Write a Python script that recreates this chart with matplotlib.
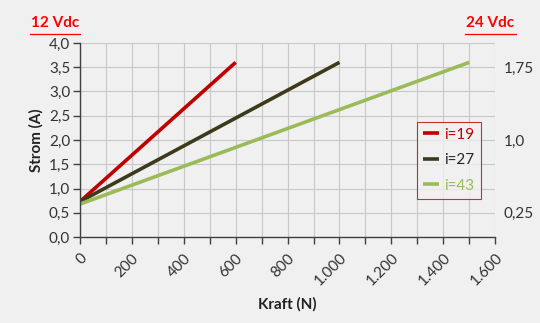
import numpy as np
import matplotlib.pyplot as plt
from matplotlib.ticker import FuncFormatter, MultipleLocator, FixedLocator

plt.rcParams['font.family'] = ['Lato', 'DejaVu Sans']

# series: force (N) vs current (A)
series_names = ["i=19", "i=27", "i=43"]
force_19 = [0, 600]
current_19 = [0.73, 3.6]
force_27 = [0, 1000]
current_27 = [0.73, 3.6]
force_43 = [0, 1500]
current_43 = [0.68, 3.6]
right_ticks = [0.25, 1.0, 1.75]
right_labels = ["0,25", "1,0", "1,75"]

colors = ["#C00000", "#3D3A1C", "#9BBB59"]
text_colors = ["#C00000", "#262626", "#9BBB59"]
bg = "#F0F0F0"


def de_num(v, pos):
    s = "{:,.0f}".format(v)
    return s.replace(",", ".")


fig = plt.figure(figsize=(5.4, 3.23), dpi=100, facecolor=bg)
ax = fig.add_axes([0.148, 0.266, 0.769, 0.601])
ax.set_facecolor(bg)

ax.plot(force_19, current_19, color=colors[0], lw=2.6, label=series_names[0], solid_capstyle='butt')
ax.plot(force_27, current_27, color=colors[1], lw=2.6, label=series_names[1], solid_capstyle='butt')
ax.plot(force_43, current_43, color=colors[2], lw=2.6, label=series_names[2], solid_capstyle='butt')

ax.set_xlim(0, 1600)
ax.set_ylim(0, 4.0)
ax.xaxis.set_major_locator(MultipleLocator(200))
ax.xaxis.set_minor_locator(MultipleLocator(100))
ax.yaxis.set_major_locator(MultipleLocator(0.5))
ax.xaxis.set_major_formatter(FuncFormatter(de_num))
ax.yaxis.set_major_formatter(FuncFormatter(lambda v, p: "{:.1f}".format(v).replace(".", ",")))

ax.grid(True, which='both', color="#C8C8C8", lw=0.8)
ax.set_axisbelow(True)
for s in ["top", "right"]:
    ax.spines[s].set_visible(False)
for s in ["left", "bottom"]:
    ax.spines[s].set_color("#404040")
    ax.spines[s].set_linewidth(1.0)

ax.tick_params(axis='both', which='both', length=5, width=1, color="#404040",
               labelsize=11, labelcolor="#333333")
ax.tick_params(axis='y', pad=2)
ax.tick_params(axis='x', pad=5)
for lbl in ax.get_xticklabels():
    lbl.set_rotation(45)
    lbl.set_ha('right')
    lbl.set_va('top')
    lbl.set_rotation_mode('anchor')

ax.set_xlabel("Kraft (N)", fontsize=11, fontweight='bold', color="#222222", labelpad=6)
ax.set_ylabel("Strom (A)", fontsize=11, fontweight='bold', color="#222222", labelpad=4)

ax2 = ax.twinx()
ax2.set_ylim(0, 2.0)
ax2.yaxis.set_major_locator(FixedLocator(right_ticks))
ax2.set_yticklabels(right_labels)
ax2.tick_params(axis='y', length=0, pad=6, labelsize=11, labelcolor="#333333")
for s in ax2.spines.values():
    s.set_visible(False)

leg = ax.legend(loc='upper left', bbox_to_anchor=(0.812, 0.595), frameon=True, fancybox=False,
                fontsize=11, handlelength=1.0, handletextpad=0.4, labelspacing=0.75,
                borderpad=0.4, borderaxespad=0)
leg.get_frame().set_edgecolor("#C00000")
leg.get_frame().set_facecolor(bg)
leg.get_frame().set_linewidth(0.8)
for t, c in zip(leg.get_texts(), text_colors):
    t.set_color(c)

fig.text(0.102, 0.93, "12 Vdc", color="#FF0000", fontsize=11, fontweight='bold',
         ha='center', va='center')
fig.text(0.908, 0.93, "24 Vdc", color="#FF0000", fontsize=11, fontweight='bold',
         ha='center', va='center')
fig.add_artist(plt.Line2D([0.055, 0.148], [0.895, 0.895], color="#FF0000", lw=0.9))
fig.add_artist(plt.Line2D([0.862, 0.955], [0.895, 0.895], color="#FF0000", lw=0.9))

fig.savefig("out.png", dpi=100, facecolor=bg)
